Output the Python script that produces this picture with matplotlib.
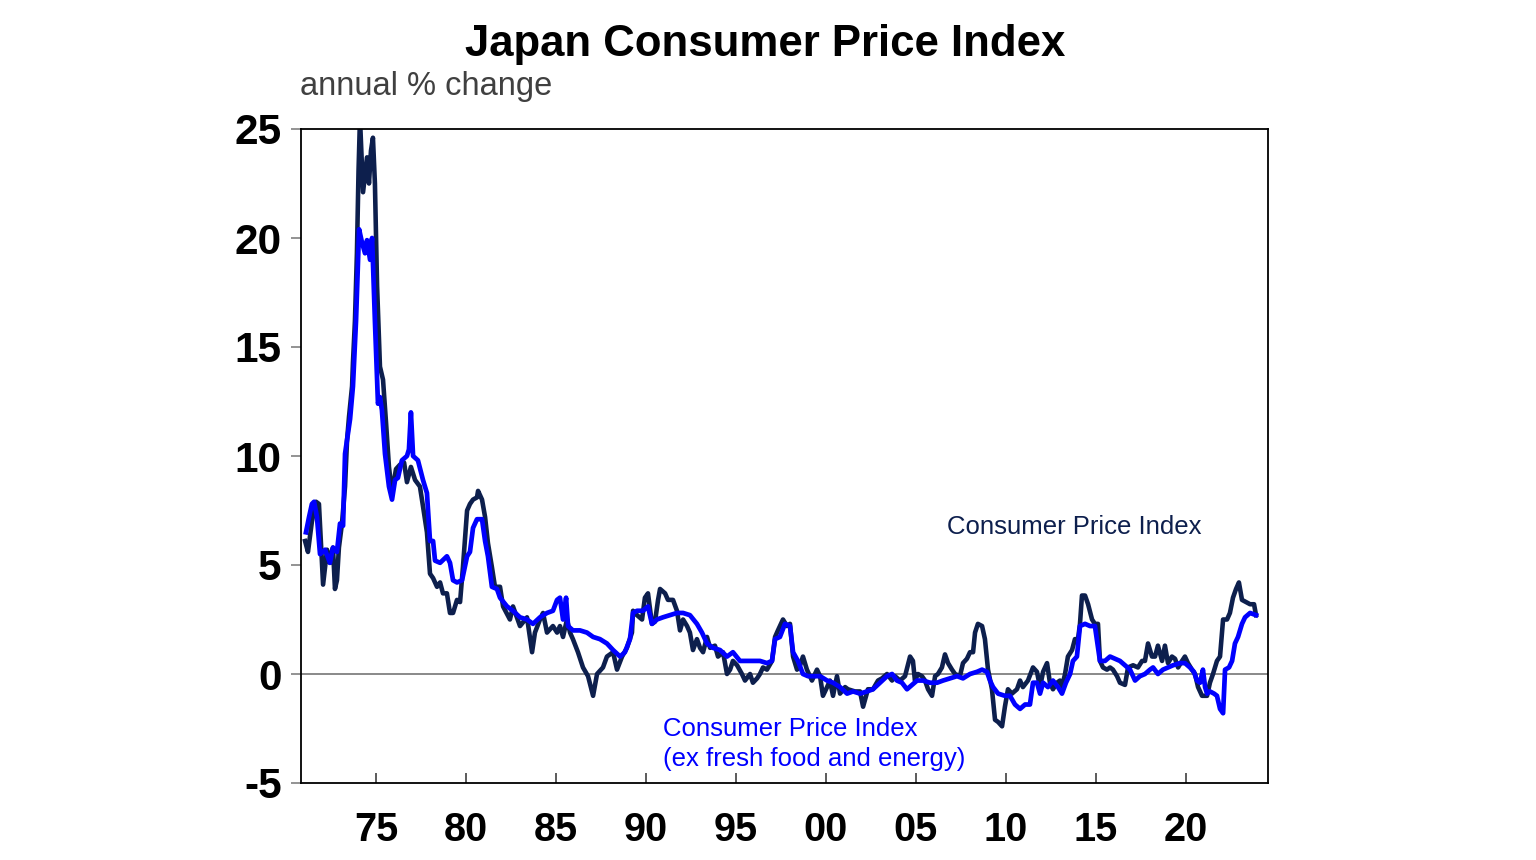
import matplotlib
matplotlib.use("Agg")
import matplotlib.pyplot as plt

# ---------------- data ----------------
cpi_year = [
    1971.06, 1971.22, 1971.44, 1971.67, 1971.83, 1972.06, 1972.28, 1972.44, 1972.61, 1972.72, 1972.83, 1972.94,
    1973.11, 1973.28, 1973.39, 1973.50, 1973.67, 1973.72, 1973.83, 1973.94, 1974.03, 1974.11, 1974.28, 1974.50, 1974.61, 1974.72, 1974.83, 1974.94,
    1975.06, 1975.22, 1975.39, 1975.56, 1975.72, 1975.89, 1976.11, 1976.33, 1976.56, 1976.72, 1976.94, 1977.17, 1977.44, 1977.61, 1977.83,
    1978.00, 1978.17, 1978.39, 1978.56, 1978.72, 1978.94, 1979.11, 1979.28, 1979.50, 1979.67, 1979.83,
    1980.06, 1980.22, 1980.39, 1980.61, 1980.67, 1980.89, 1981.06, 1981.22, 1981.44, 1981.61, 1981.89, 1982.06, 1982.44, 1982.61, 1982.83,
    1983.00, 1983.39, 1983.67, 1983.83, 1984.11, 1984.28, 1984.50, 1984.83, 1985.06, 1985.22, 1985.39, 1985.61, 1985.78, 1985.94,
    1986.22, 1986.50, 1986.78, 1987.06, 1987.28, 1987.61, 1987.83, 1988.17, 1988.39, 1988.67, 1988.94,
    1989.22, 1989.28, 1989.50, 1989.78, 1989.94, 1990.11, 1990.33, 1990.50, 1990.67, 1990.78, 1991.06, 1991.22, 1991.50, 1991.72, 1991.89,
    1992.06, 1992.28, 1992.44, 1992.61, 1992.83, 1993.00, 1993.17, 1993.39, 1993.56, 1993.83, 1994.00, 1994.28, 1994.50, 1994.67, 1994.83,
    1995.06, 1995.33, 1995.50, 1995.78, 1995.94, 1996.17, 1996.33, 1996.50, 1996.72, 1997.00, 1997.17, 1997.33, 1997.61, 1997.83,
    1998.00, 1998.17, 1998.39, 1998.56, 1998.72, 1998.94, 1999.22, 1999.50, 1999.67, 1999.83, 2000.06, 2000.22, 2000.39, 2000.61, 2000.78,
    2001.06, 2001.22, 2001.61, 2001.89, 2002.06, 2002.33, 2002.61, 2002.89, 2003.11, 2003.39, 2003.67, 2003.83,
    2004.11, 2004.39, 2004.67, 2004.83, 2004.94, 2005.11, 2005.33, 2005.50, 2005.67, 2005.89, 2006.06, 2006.22, 2006.44, 2006.61, 2006.78,
    2007.00, 2007.17, 2007.44, 2007.61, 2007.83, 2008.00, 2008.17, 2008.28, 2008.44, 2008.67, 2008.83, 2009.00, 2009.22, 2009.39, 2009.56, 2009.78, 2009.94,
    2010.11, 2010.33, 2010.61, 2010.78, 2010.94, 2011.22, 2011.50, 2011.72, 2011.89, 2012.06, 2012.28, 2012.44, 2012.61, 2012.83,
    2013.00, 2013.11, 2013.28, 2013.44, 2013.67, 2013.83, 2014.00, 2014.11, 2014.22, 2014.39, 2014.56, 2014.78, 2014.94, 2015.11, 2015.22, 2015.39, 2015.61, 2015.78, 2015.94,
    2016.17, 2016.33, 2016.61, 2016.78, 2017.06, 2017.33, 2017.56, 2017.72, 2017.89, 2018.11, 2018.28, 2018.44, 2018.67, 2018.83,
    2019.00, 2019.22, 2019.39, 2019.56, 2019.78, 2019.94, 2020.11, 2020.33, 2020.50, 2020.67, 2020.89, 2021.17, 2021.33, 2021.50, 2021.72, 2021.89,
    2022.06, 2022.28, 2022.44, 2022.61, 2022.78, 2022.94, 2023.11, 2023.33, 2023.56, 2023.78, 2023.89,
]
cpi_value = [
    6.1, 5.6, 7.0, 7.9, 7.8, 4.1, 5.7, 5.1, 5.8, 3.9, 4.3, 5.8,
    6.9, 8.6, 10.7, 11.8, 13.2, 14.3, 16.2, 19.3, 23.1, 25.5, 22.1, 23.7, 22.5, 24.0, 24.6, 22.5,
    17.8, 14.1, 13.5, 11.5, 9.5, 8.3, 9.4, 9.6, 9.7, 8.8, 9.5, 8.9, 8.6, 7.7, 6.5,
    4.6, 4.4, 4.0, 4.2, 3.7, 3.7, 2.8, 2.8, 3.4, 3.3, 4.9,
    7.5, 7.8, 8.0, 8.1, 8.4, 8.0, 7.2, 6.0, 4.9, 4.0, 4.0, 3.1, 2.5, 3.1, 2.6,
    2.2, 2.6, 1.0, 1.9, 2.5, 2.8, 1.9, 2.2, 1.9, 2.2, 1.7, 2.5, 1.9, 1.6,
    1.0, 0.3, -0.1, -1.0, 0.0, 0.3, 0.8, 1.0, 0.2, 0.8, 1.2,
    1.9, 2.9, 2.7, 2.5, 3.5, 3.7, 2.3, 2.4, 3.4, 3.9, 3.7, 3.4, 3.4, 2.9, 2.0,
    2.5, 2.2, 1.9, 1.1, 1.6, 1.2, 1.0, 1.7, 1.2, 1.3, 0.8, 1.0, 0.0, 0.2, 0.6,
    0.4, 0.0, -0.3, 0.0, -0.4, -0.2, 0.0, 0.3, 0.2, 0.6, 1.7, 2.0, 2.5, 2.2,
    2.3, 0.8, 0.2, 0.4, 0.8, 0.2, -0.3, 0.2, -0.1, -1.0, -0.6, -0.3, -1.0, -0.1, -0.9,
    -0.6, -0.7, -0.8, -0.8, -1.5, -0.7, -0.7, -0.3, -0.2, 0.0, -0.3, -0.1,
    -0.3, -0.1, 0.8, 0.6, -0.3, 0.0, -0.1, -0.3, -0.7, -1.0, -0.1, 0.0, 0.3, 0.9, 0.5,
    0.2, 0.0, -0.1, 0.5, 0.7, 1.0, 1.0, 1.9, 2.3, 2.2, 1.6, 0.2, -0.7, -2.1, -2.2, -2.4, -1.5,
    -0.7, -0.9, -0.7, -0.3, -0.6, -0.3, 0.3, 0.1, -0.6, 0.1, 0.5, -0.4, -0.7, -0.4,
    -0.3, -0.6, 0.0, 0.8, 1.1, 1.6, 1.6, 2.3, 3.6, 3.6, 3.2, 2.5, 2.3, 2.3, 0.6, 0.3, 0.2, 0.3, 0.2,
    -0.1, -0.4, -0.5, 0.3, 0.4, 0.3, 0.6, 0.6, 1.4, 0.8, 0.8, 1.3, 0.6, 1.3,
    0.5, 0.8, 0.7, 0.3, 0.6, 0.8, 0.5, 0.2, 0.0, -0.6, -1.0, -1.0, -0.4, 0.0, 0.6, 0.8,
    2.5, 2.5, 2.8, 3.5, 3.9, 4.2, 3.4, 3.3, 3.2, 3.2, 2.7,
]

core_year = [
    1971.11, 1971.28, 1971.44, 1971.56, 1971.72, 1971.89, 1972.17, 1972.44, 1972.61, 1972.83,
    1973.00, 1973.17, 1973.28, 1973.56, 1973.72, 1973.89, 1974.06, 1974.22, 1974.39, 1974.50, 1974.67, 1974.78, 1974.83, 1974.94,
    1975.11, 1975.22, 1975.33, 1975.50, 1975.72, 1975.89, 1976.06, 1976.22, 1976.44, 1976.72, 1976.83, 1976.94, 1977.06, 1977.33, 1977.61, 1977.83,
    1978.00, 1978.17, 1978.28, 1978.56, 1978.94, 1979.11, 1979.28, 1979.50, 1979.78,
    1980.06, 1980.22, 1980.39, 1980.61, 1980.89, 1981.06, 1981.22, 1981.44, 1981.72, 1981.89, 1982.28, 1982.61,
    1983.00, 1983.39, 1983.72, 1984.11, 1984.50, 1984.83, 1985.06, 1985.22, 1985.39, 1985.56, 1985.67, 1985.94,
    1986.33, 1986.72, 1987.06, 1987.44, 1987.83, 1988.17, 1988.56, 1988.83,
    1989.11, 1989.28, 1989.50, 1989.83, 1990.11, 1990.33, 1990.61, 1990.94, 1991.33, 1991.72,
    1992.06, 1992.44, 1992.83, 1993.11, 1993.39, 1993.72, 1994.11, 1994.50, 1994.83,
    1995.22, 1995.61, 1995.94, 1996.33, 1996.72, 1997.00, 1997.17, 1997.44, 1997.72,
    1998.00, 1998.17, 1998.44, 1998.72, 1999.00, 1999.39, 1999.67, 2000.06, 2000.39, 2000.78,
    2001.17, 2001.50, 2001.89, 2002.28, 2002.61, 2003.00, 2003.39, 2003.67, 2003.94,
    2004.22, 2004.50, 2004.78, 2005.06, 2005.39, 2005.78, 2006.17, 2006.50, 2006.89,
    2007.28, 2007.61, 2008.00, 2008.39, 2008.67, 2008.94, 2009.11, 2009.28, 2009.56, 2009.94,
    2010.22, 2010.50, 2010.78, 2011.06, 2011.33, 2011.50, 2011.72, 2011.89, 2012.06, 2012.33, 2012.61, 2012.89,
    2013.11, 2013.33, 2013.56, 2013.72, 2013.94, 2014.11, 2014.39, 2014.67, 2014.94, 2015.22, 2015.50, 2015.78,
    2016.06, 2016.33, 2016.61, 2016.89, 2017.17, 2017.44, 2017.72, 2018.00, 2018.17, 2018.44, 2018.72,
    2019.00, 2019.28, 2019.67, 2019.94, 2020.22, 2020.44, 2020.61, 2020.78, 2020.94, 2021.06, 2021.17, 2021.33, 2021.56, 2021.72, 2021.89,
    2022.06, 2022.17, 2022.39, 2022.56, 2022.72, 2022.89, 2023.11, 2023.28, 2023.56, 2023.89,
]
core_value = [
    6.5, 7.2, 7.8, 7.9, 7.2, 5.5, 5.7, 5.1, 5.8, 5.6,
    6.9, 6.8, 10.1, 11.7, 13.2, 16.2, 20.4, 19.8, 19.3, 19.9, 19.0, 20.0, 18.9, 16.2,
    12.4, 12.7, 12.1, 10.1, 8.6, 8.0, 8.9, 9.0, 9.8, 10.0, 10.3, 12.0, 10.0, 9.8, 8.9, 8.3,
    6.1, 6.1, 5.2, 5.1, 5.4, 5.1, 4.3, 4.2, 4.3,
    5.4, 5.6, 6.7, 7.1, 7.1, 6.1, 5.4, 4.0, 3.9, 3.5, 3.1, 2.9,
    2.6, 2.5, 2.3, 2.6, 2.8, 2.9, 3.4, 3.5, 2.5, 3.5, 2.2, 2.0,
    2.0, 1.9, 1.7, 1.6, 1.4, 1.1, 0.8, 1.0,
    1.6, 2.8, 2.9, 2.9, 3.1, 2.3, 2.5, 2.6, 2.7, 2.8,
    2.8, 2.7, 2.3, 1.9, 1.4, 1.2, 1.1, 0.8, 1.0,
    0.6, 0.6, 0.6, 0.6, 0.5, 0.6, 1.6, 1.7, 2.3,
    2.2, 1.0, 0.6, 0.0, -0.1, -0.1, -0.1, -0.3, -0.4, -0.6,
    -0.9, -0.8, -0.9, -0.8, -0.7, -0.4, -0.1, 0.0, -0.3,
    -0.4, -0.7, -0.5, -0.3, -0.3, -0.4, -0.4, -0.3, -0.2,
    -0.1, -0.2, 0.0, 0.1, 0.2, 0.1, -0.3, -0.6, -0.9, -1.0,
    -1.0, -1.4, -1.6, -1.4, -1.4, -0.4, -0.4, -0.9, -0.4, -0.6, -0.3, -0.6,
    -0.9, -0.4, 0.0, 0.6, 0.8, 2.2, 2.3, 2.2, 2.2, 0.6, 0.6, 0.8,
    0.7, 0.6, 0.4, 0.2, -0.3, -0.1, 0.0, 0.2, 0.3, 0.0, 0.2,
    0.3, 0.4, 0.5, 0.5, 0.3, 0.1, -0.3, -0.4, 0.2, -0.6, -0.9, -0.8, -0.9, -1.0, -1.6,
    -1.8, 0.2, 0.3, 0.6, 1.4, 1.7, 2.3, 2.6, 2.8, 2.7,
]

x_ticks = [1975, 1980, 1985, 1990, 1995, 2000, 2005, 2010, 2015, 2020]
x_tick_labels = ["75", "80", "85", "90", "95", "00", "05", "10", "15", "20"]
y_ticks = [-5, 0, 5, 10, 15, 20, 25]
y_tick_labels = ["-5", "0", "5", "10", "15", "20", "25"]

title = "Japan Consumer Price Index"
subtitle = "annual % change"
cpi_label = "Consumer Price Index"
core_label_1 = "Consumer Price Index"
core_label_2 = "(ex fresh food and energy)"

# ---------------- style ----------------
plt.rcParams["font.family"] = ["Liberation Sans", "DejaVu Sans"]
NAVY = "#0d1f4d"
BLUE = "#0000ff"

W, H = 1536, 860
fig = plt.figure(figsize=(W / 100, H / 100), dpi=100)
ax = fig.add_axes([301 / W, 1 - 783 / H, (1268 - 301) / W, (783 - 129) / H])

ax.axhline(0, color="#808080", lw=1.3, zorder=1)
ax.plot(cpi_year, cpi_value, color=NAVY, lw=3.3, zorder=2, solid_joinstyle="round")
ax.plot(core_year, core_value, color=BLUE, lw=3.4, zorder=3, solid_joinstyle="round")

ax.set_xlim(1975 + (301 - 376) / 18, 1975 + (1268 - 376) / 18)
ax.set_ylim(-5, 25)

ax.set_xticks(x_ticks)
ax.set_xticklabels(x_tick_labels, fontsize=28.5, fontweight="bold")
ax.set_yticks(y_ticks)
ax.set_yticklabels(y_tick_labels, fontsize=30.5, fontweight="bold")

ax.tick_params(axis="x", direction="in", length=7, width=1.2, color="#404040", pad=20)
ax.tick_params(axis="y", direction="out", length=7, width=1.2, color="#808080", pad=7)

for s in ax.spines.values():
    s.set_linewidth(1.3)
    s.set_color("#000000")

fig.text(765 / W, 1 - 56 / H, title, ha="center", va="baseline",
         fontsize=31.5, fontweight="bold", color="#000000")
fig.text(300 / W, 1 - 95 / H, subtitle, ha="left", va="baseline",
         fontsize=23.5, color="#404040")

fig.text(947 / W, 1 - 534 / H, cpi_label, ha="left", va="baseline",
         fontsize=18.5, color=NAVY)
fig.text(663 / W, 1 - 736 / H, core_label_1, ha="left", va="baseline",
         fontsize=18.5, color=BLUE)
fig.text(663 / W, 1 - 766 / H, core_label_2, ha="left", va="baseline",
         fontsize=18.5, color=BLUE)

fig.savefig("out.png", dpi=100, facecolor="white")
